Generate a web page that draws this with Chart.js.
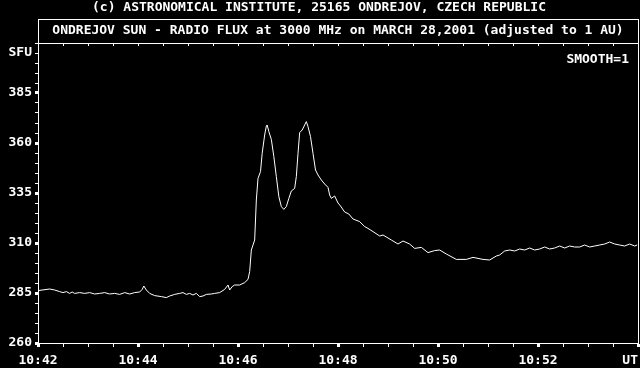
<!DOCTYPE html>
<html>
<head>
<meta charset="utf-8">
<script src="https://cdn.jsdelivr.net/npm/chart.js@4.4.0/dist/chart.umd.min.js"></script>
<style>
  html, body { margin: 0; padding: 0; background: #000; }
  #wrap { width: 640px; height: 368px; }
</style>
</head>
<body>
<div id="wrap"><canvas id="flux" width="640" height="368"></canvas></div>
<script>
// seconds after 10:42:00 UT
const secs = [
  0, 14, 20, 26, 30, 34, 38, 41, 44, 50, 56, 62, 68, 74, 80, 86, 92, 98, 104, 110,
  116, 122, 125, 127, 130, 134, 140, 148, 154, 158, 164, 170, 174, 178, 182, 186, 190, 194, 198, 202,
  208, 212, 218, 224, 228, 230, 233, 236, 242, 248, 252, 254, 256, 260, 261, 262, 264, 267, 269, 272,
  274, 275, 277, 280, 283, 286, 289, 292, 295, 298, 301, 304, 308, 310, 312, 314, 317, 320, 322, 324,
  327, 330, 333, 336, 340, 344, 348, 350, 352, 356, 360, 363, 368, 373, 378, 386, 392, 396, 402, 410,
  414, 424, 432, 438, 446, 452, 460, 468, 476, 482, 490, 502, 514, 522, 534, 542, 550, 554, 560, 566,
  572, 578, 584, 590, 596, 602, 608, 614, 620, 626, 632, 638, 644, 650, 656, 662, 668, 674, 680, 686,
  692, 698, 704, 710, 716, 719
];
// solar radio flux, SFU
const flux = [
  286.2, 287, 286.5, 285.7, 285.2, 285.7, 284.8, 285.5, 284.8, 285.2, 284.8, 285.2, 284.5, 284.8, 285.2, 284.5, 284.8, 284.3, 285.2, 284.5,
  285.2, 285.5, 286.8, 288.5, 286.5, 284.8, 283.7, 283.2, 282.7, 283.5, 284.3, 284.8, 285.2, 284.3, 284.8, 284, 284.8, 283.2, 283.5, 284.3,
  284.5, 284.8, 285.2, 286.8, 289, 286.5, 288.2, 289, 289, 290.2, 291.8, 295.7, 306.5, 311.5, 321.5, 331.5, 342.3, 345.7, 354.8, 364,
  368.5, 369, 365.7, 361.8, 353.2, 343.2, 333.2, 328.2, 326.8, 328.2, 332.3, 336, 337.3, 343.2, 354.8, 365.2, 366.5, 369, 370.7, 368.2,
  363.2, 354.8, 346.5, 344, 341.5, 339.5, 337.8, 334, 332.3, 333.5, 330, 328.5, 325.5, 324.5, 322, 320.7, 318.2, 317.3, 315.7, 313.5,
  314, 311.5, 309.5, 311, 309.5, 307.3, 307.8, 305.2, 306.2, 306.5, 304.5, 301.8, 301.8, 302.8, 301.8, 301.5, 303.5, 304, 306, 306.5,
  306, 307, 306.5, 307.5, 306.5, 307, 308, 307, 307.5, 308.5, 307.5, 308.5, 308, 308, 309, 308, 308.5, 309, 309.5, 310.5,
  309.5, 309, 308.5, 309.5, 308.5, 309
];
const yLabels = [260, 285, 310, 335, 360, 385];
const xLabelSecs = [0, 120, 240, 360, 480, 600];

const FONT = { family: 'DejaVu Sans Mono', size: 13, weight: 'bold' };

function timeLabel(s) {
  const m = 42 + s / 60;
  return '10:' + String(m).padStart(2, '0');
}

const frame = {
  id: 'frame',
  beforeDraw(chart) {
    const c = chart.ctx;
    c.save();
    c.fillStyle = '#000';
    c.fillRect(0, 0, chart.width, chart.height);
    c.restore();
  },
  afterDraw(chart) {
    const c = chart.ctx, a = chart.chartArea, xs = chart.scales.x;
    c.save();
    c.strokeStyle = '#fff';
    c.lineWidth = 1;
    c.strokeRect(a.left + 0.5, 19.5, a.right - a.left, a.bottom - 19);
    c.beginPath();
    c.moveTo(a.left, a.top + 0.5);
    c.lineTo(a.right + 1, a.top + 0.5);
    // small ticks hanging under the top edge
    xs.ticks.forEach(t => {
      const px = Math.round(xs.getPixelForValue(t.value)) + 0.5;
      c.moveTo(px, a.top);
      c.lineTo(px, a.top + 3);
    });
    c.stroke();
    c.fillStyle = '#fff';
    c.font = 'bold 13px "DejaVu Sans Mono"';
    c.textAlign = 'right';
    c.textBaseline = 'middle';
    c.fillText('SMOOTH=1', a.right - 9, 60);
    c.restore();
  }
};

new Chart(document.getElementById('flux'), {
  type: 'line',
  data: {
    datasets: [{
      data: secs.map((s, i) => ({ x: s, y: flux[i] })),
      borderColor: '#fff',
      borderWidth: 1,
      pointRadius: 0,
      tension: 0
    }]
  },
  options: {
    responsive: false,
    animation: false,
    layout: { padding: { left: 0, right: 2, top: 0, bottom: 0 } },
    plugins: {
      legend: { display: false },
      tooltip: { enabled: false },
      title: {
        display: true,
        text: '(c) ASTRONOMICAL INSTITUTE, 25165 ONDREJOV, CZECH REPUBLIC',
        color: '#fff',
        font: FONT,
        padding: { top: 0, bottom: 7.4 }
      },
      subtitle: {
        display: true,
        fullSize: false,
        text: 'ONDREJOV SUN - RADIO FLUX at 3000 MHz on MARCH 28,2001 (adjusted to 1 AU)',
        color: '#fff',
        font: FONT,
        padding: { top: 0, bottom: 4.4 }
      }
    },
    scales: {
      x: {
        type: 'linear',
        min: 0,
        max: 720,
        afterFit(s) { s.height = 25; s.paddingLeft = 0; s.paddingRight = 0; },
        border: { display: true, color: '#fff', width: 1 },
        grid: {
          drawOnChartArea: false,
          tickLength: 4,
          tickColor: '#fff',
          tickWidth: ctx => (ctx.tick && ctx.tick.value % 120 === 0 ? 3 : 1)
        },
        ticks: {
          stepSize: 30,
          autoSkip: false,
          maxRotation: 0,
          color: '#fff',
          font: FONT,
          padding: 6,
          callback: v => {
            if (v === 720) return 'UT  ';
            return xLabelSecs.includes(v) ? timeLabel(v) : '';
          }
        }
      },
      y: {
        min: 260,
        max: 410,
        afterFit(s) { s.width = 38; s.paddingTop = 0; s.paddingBottom = 0; },
        border: { display: true, color: '#fff', width: 1 },
        grid: {
          drawOnChartArea: false,
          tickLength: 3,
          tickColor: '#fff',
          tickWidth: ctx => (ctx.tick && yLabels.includes(ctx.tick.value) ? 3 : 1)
        },
        ticks: {
          stepSize: 5,
          autoSkip: false,
          color: '#fff',
          font: FONT,
          padding: 3,
          callback: v => {
            if (v === 405) return 'SFU';
            return yLabels.includes(v) ? String(v) : '';
          }
        }
      }
    }
  },
  plugins: [frame]
});
</script>
</body>
</html>
